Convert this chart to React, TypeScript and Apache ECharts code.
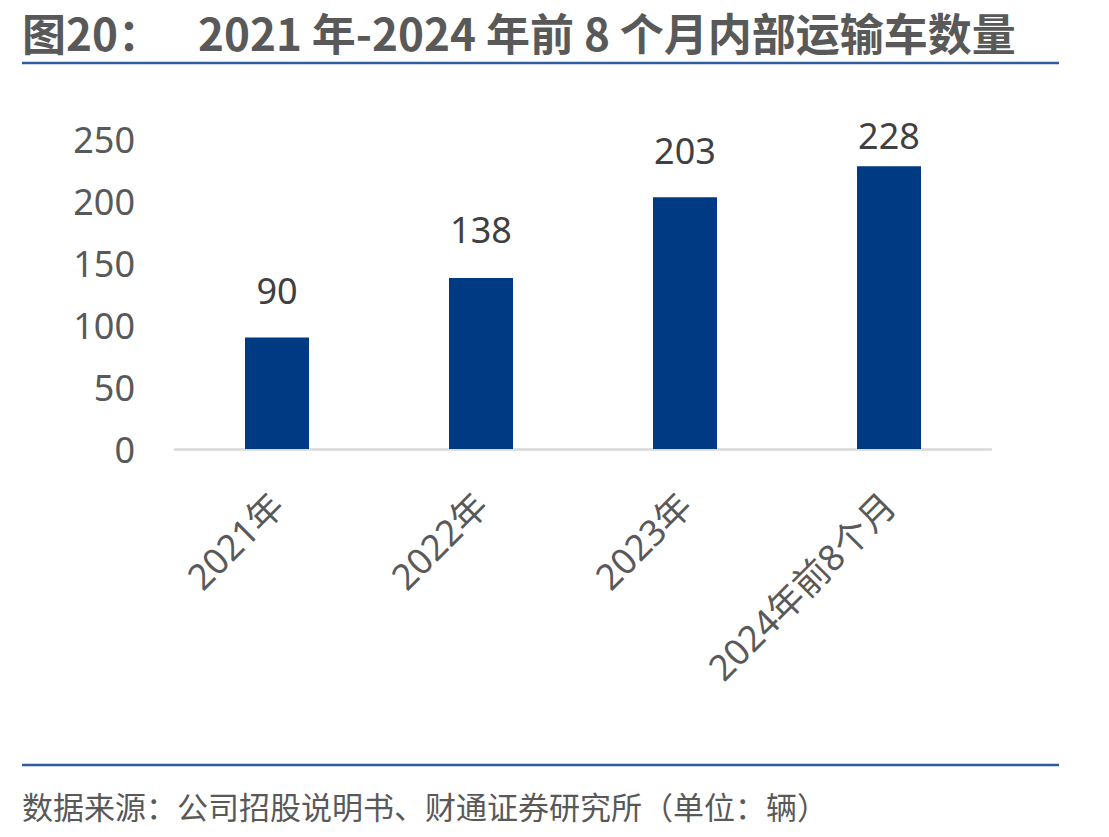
import React, { useEffect, useRef } from "react";
import * as echarts from "echarts";

const categories = ["2021年", "2022年", "2023年", "2024年前8个月"];
const values = [90, 138, 203, 228];
const labelDistances = [29, 30, 29, 13];
const yTicks = { min: 0, max: 250, interval: 50 };

const titleLead = "图20：";
const titleText = "2021 年-2024 年前 8 个月内部运输车数量";
const sourceText = "数据来源：公司招股说明书、财通证券研究所（单位：辆）";

export default function App() {
  const ref = useRef<HTMLDivElement>(null);
  useEffect(() => {
    document.body.style.margin = "0";
    const chart = echarts.init(ref.current!, null, { renderer: "svg" });
    const cjk = "'Noto Sans CJK SC', 'Noto Sans', sans-serif";
    const num = "'Noto Sans', 'Open Sans', 'Noto Sans CJK SC', sans-serif";
    chart.setOption({
      animation: false,
      backgroundColor: "#ffffff",
      grid: { left: 175, right: 118, top: 139, bottom: 388, containLabel: false },
      xAxis: {
        type: "category",
        data: categories,
        axisLine: { show: true, lineStyle: { color: "#D9D9D9", width: 2.5 } },
        axisTick: { show: false },
        axisLabel: {
          rotate: 45,
          margin: 50,
          interval: 0,
          color: "#595959",
          fontSize: 36,
          fontFamily: num,
        },
      },
      yAxis: {
        type: "value",
        min: yTicks.min,
        max: yTicks.max,
        interval: yTicks.interval,
        splitLine: { show: false },
        axisLine: { show: false },
        axisTick: { show: false },
        axisLabel: { color: "#595959", fontSize: 36, margin: 40, fontFamily: num },
      },
      series: [
        {
          type: "bar",
          barWidth: 64,
          itemStyle: { color: "#003A82" },
          data: values.map((v, i) => ({
            value: v,
            label: { distance: labelDistances[i] },
          })),
          label: {
            show: true,
            position: "top",
            color: "#404040",
            fontSize: 36,
            fontFamily: num,
          },
        },
      ],
      graphic: [
        {
          type: "text",
          x: 22,
          y: 32,
          style: {
            text: titleLead,
            fontSize: 44,
            fontWeight: "bold",
            fill: "#595959",
            fontFamily: cjk,
            align: "left",
            verticalAlign: "middle",
          },
        },
        {
          type: "text",
          x: 198,
          y: 32,
          style: {
            text: titleText,
            fontSize: 44,
            fontWeight: "bold",
            fill: "#595959",
            fontFamily: cjk,
            align: "left",
            verticalAlign: "middle",
          },
        },
        {
          type: "line",
          shape: { x1: 22, y1: 63, x2: 1059, y2: 63 },
          style: { stroke: "#2E5C9E", lineWidth: 2.5 },
        },
        {
          type: "line",
          shape: { x1: 22, y1: 765, x2: 1059, y2: 765 },
          style: { stroke: "#2E5C9E", lineWidth: 2.5 },
        },
        {
          type: "text",
          x: 22,
          y: 805,
          style: {
            text: sourceText,
            fontSize: 31,
            fill: "#595959",
            fontFamily: cjk,
            align: "left",
            verticalAlign: "middle",
          },
        },
      ],
    });
    return () => chart.dispose();
  }, []);
  return <div ref={ref} style={{ width: 1109, height: 837 }} />;
}
